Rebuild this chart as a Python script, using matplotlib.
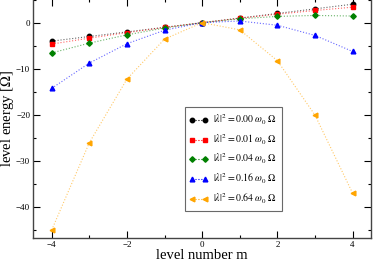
import matplotlib
matplotlib.use("Agg")
import matplotlib.pyplot as plt
from matplotlib.ticker import MultipleLocator

plt.rcParams['font.family'] = ['Liberation Serif', 'DejaVu Serif']
plt.rcParams['mathtext.fontset'] = 'stix'

m = [-4, -3, -2, -1, 0, 1, 2, 3, 4]
e000 = [-4, -3, -2, -1, 0, 1, 2, 3, 4]
e001 = [-4.64, -3.36, -2.16, -1.04, 0, 0.96, 1.84, 2.64, 3.36]
e004 = [-6.56, -4.44, -2.64, -1.16, 0, 0.84, 1.36, 1.56, 1.44]
e016 = [-14.24, -8.76, -4.56, -1.64, 0, 0.36, -0.56, -2.76, -6.24]
e064 = [-44.96, -26.04, -12.24, -3.56, 0, -1.56, -8.24, -20.04, -36.96]
labels = ['0.00', '0.01', '0.04', '0.16', '0.64']

series = [e000, e001, e004, e016, e064]
colors = ['black', 'red', 'green', 'blue', 'orange']
markers = ['o', 's', 'D', '^', '<']
msizes = [3.2, 3.2, 2.8, 3.4, 3.4]

fig = plt.figure(figsize=(3.74, 2.63), dpi=100)
ax = fig.add_axes([0.088, 0.095, 0.905, 0.91])

for y, c, mk, ms, lab in zip(series, colors, markers, msizes, labels):
    ax.plot(m, y, linestyle=':', color=c, lw=0.8, alpha=0.6)
    ax.plot([], [], linestyle=':', color=c, lw=0.8, marker=mk, ms=ms,
            label=r'$|\lambda|^2 = %s\ \omega_0\ \Omega$' % lab)
    ax.plot(m, y, linestyle='none', marker=mk, color=c, ms=ms)

ax.set_xlim(-4.5, 4.5)
ax.set_ylim(-46.7, 5.2)
ax.xaxis.set_major_locator(MultipleLocator(2))
ax.xaxis.set_minor_locator(MultipleLocator(1))
ax.yaxis.set_major_locator(MultipleLocator(10))
ax.yaxis.set_minor_locator(MultipleLocator(5))
ax.tick_params(which='both', direction='in', top=True, right=True, labelsize=6.5, width=0.8, pad=2)
ax.tick_params(which='major', length=5)
ax.tick_params(which='minor', length=2.5)
for s in ax.spines.values():
    s.set_linewidth(1.0)
    s.set_color('#444444')

ax.set_xlabel('level number m', fontsize=10.5, labelpad=0)
ax.set_ylabel(r'level energy [$\Omega$]', fontsize=10.5, labelpad=0)

leg = ax.legend(loc='lower left', bbox_to_anchor=(0.448, 0.113), fontsize=7.1, numpoints=2,
                fancybox=False, frameon=True, handlelength=1.9, borderpad=0.5,
                labelspacing=0.55, handletextpad=0.5, borderaxespad=0)
leg.get_frame().set_edgecolor('#444444')
leg.get_frame().set_linewidth(0.8)

fig.savefig('out.png', dpi=100)
